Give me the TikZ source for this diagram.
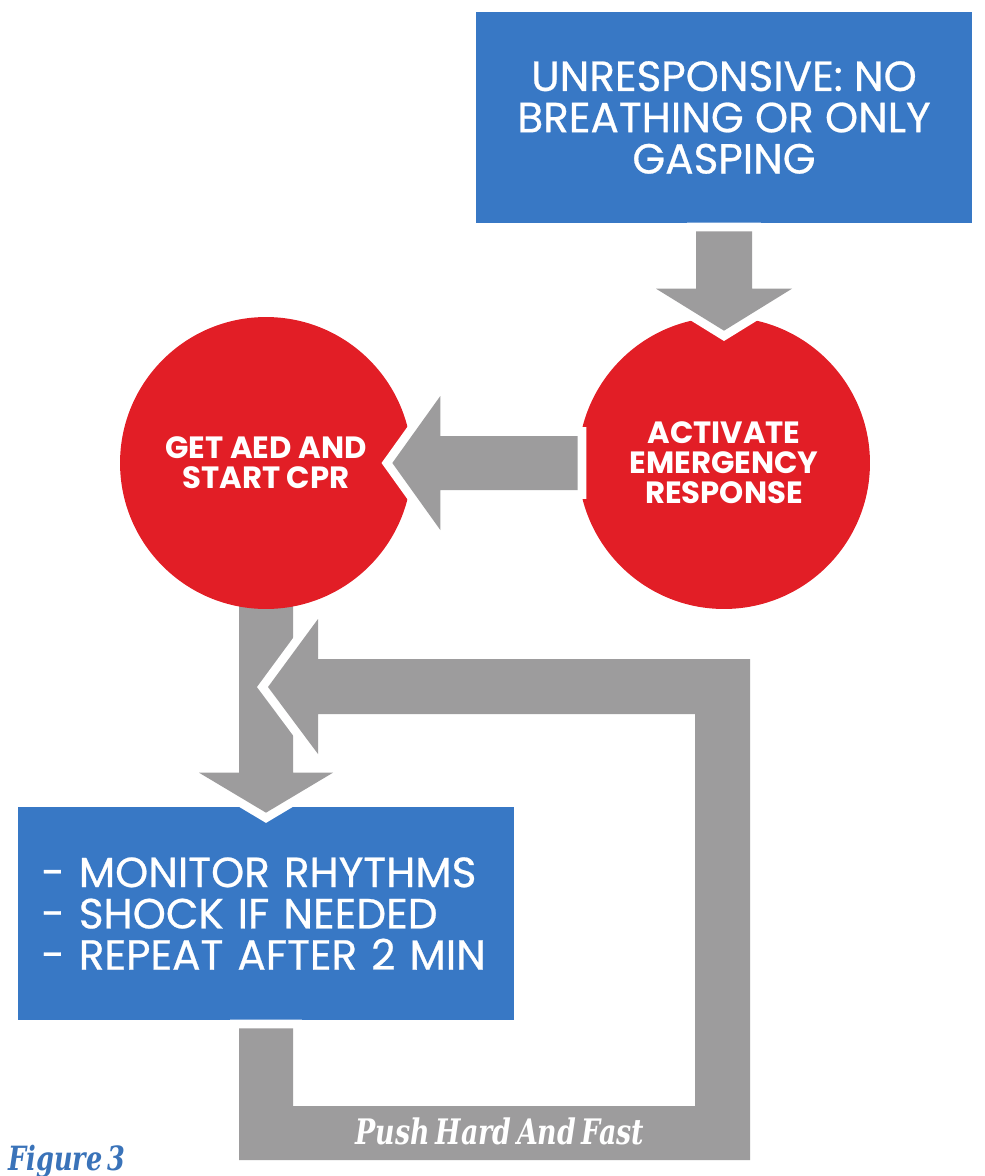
\documentclass[tikz,border=0pt]{standalone}
\usepackage{fontspec}
\newfontfamily\cardfont{Poppins}[FakeBold=0.6]
\newfontfamily\circlefont{Poppins}
\newfontfamily\slabfont{DejaVu Serif Condensed}[FakeStretch=0.85, WordSpace=0.6]
\usetikzlibrary{positioning,calc}
\definecolor{aedblue}{RGB}{56,120,197}
\definecolor{aedred}{RGB}{226,30,38}
\definecolor{aedgray}{RGB}{157,156,157}
\definecolor{figblue}{RGB}{58,115,185}
\tikzset{
  stepbox/.style={fill=aedblue, text=white, inner sep=0pt,
    font=\cardfont\fontsize{24}{23.5}\selectfont},
  action/.style={circle, fill=aedred, text=white, minimum size=5.84cm,
    inner sep=0pt, align=center,
    font=\circlefont\bfseries\fontsize{17.5}{17}\selectfont},
  fatarrow/.style={fill=aedgray, line join=miter,
    preaction={draw=white, line width=10pt, line join=miter, miter limit=1.5}},
  slab/.style={font=\slabfont\bfseries\itshape\fontsize{19}{20}\selectfont},
}

\begin{document}
\begin{tikzpicture}[x=0.02cm, y=-0.02cm]
\useasboundingbox (0,0) rectangle (984,1176);
% boxes
\node[stepbox, minimum width=9.92cm, minimum height=4.22cm, align=center] (unresp) at (724,117.5)
  {UNRESPONSIVE: NO\\BREATHING OR ONLY\\GASPING};
\node[stepbox, minimum width=9.94cm, minimum height=4.26cm, text width=8.98cm, align=left] (monitor) at (266,913.5)
  {- MONITOR RHYTHMS\\- SHOCK IF NEEDED\\- REPEAT AFTER 2 MIN};
% down to the monitor box
\path[fatarrow] ($(monitor.north)+(-27,-250)$) -- ($(monitor.north)+(-27,-34)$) -- ++(-40,0)
  -- ($(monitor.north)+(0,6)$) -- ($(monitor.north)+(67,-34)$) -- ++(-40,0)
  -- ($(monitor.north)+(27,-250)$) -- cycle;
% loop back
\coordinate (rejoin) at (268,687);
\path[fatarrow] ($(monitor.south)+(-27,8)$) -- (239,1160) -- (750,1160) -- (750,659)
  -- (318,659) -- (318,619) -- (rejoin) -- (318,754) -- (318,714) -- (695,714)
  -- (695,1106) -- (293,1106) -- ($(monitor.south)+(27,8)$) -- cycle;
\node[slab, text=white, font=\slabfont\bfseries\itshape\fontsize{20}{20}\selectfont] (push) at (500,1131) {Push Hard And Fast};
% circles
\node[action] (activate) at (724,463) {ACTIVATE\\EMERGENCY\\RESPONSE};
\node[action] (getaed) at (266,463) {GET AED AND\\START CPR};
% top box to activate
\path[fatarrow] ($(unresp.south)+(-28,8)$) -- ($(activate.north)+(-28,-28)$) -- ++(-40,0)
  -- ($(activate.north)+(0,14)$) -- ($(activate.north)+(68,-28)$) -- ++(-40,0)
  -- ($(unresp.south)+(28,8)$) -- cycle;
% activate to get aed
\path[fatarrow] ($(activate.west)+(0,-27)$) -- ($(getaed.east)+(28,-27)$) -- ++(0,-40)
  -- ($(getaed.east)+(-20,0)$) -- ($(getaed.east)+(28,67)$) -- ++(0,-40)
  -- ($(activate.west)+(0,27)$) -- cycle;
\node[slab, anchor=base west, text=figblue, inner sep=0pt] (fig) at (8,1170) {Figure 3};
\end{tikzpicture}
\end{document}
